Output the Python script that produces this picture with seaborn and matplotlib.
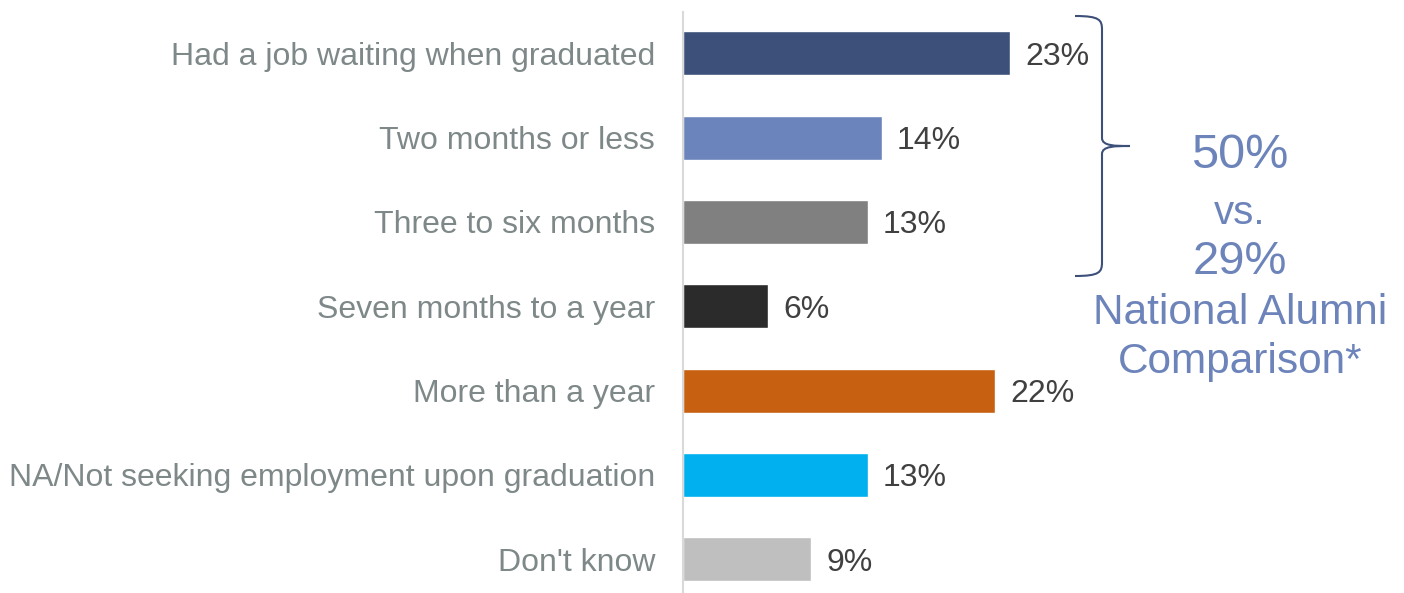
import matplotlib.pyplot as plt
import pandas as pd
import seaborn as sns
from matplotlib.patches import PathPatch
from matplotlib.path import Path

categories = [
    "Had a job waiting when graduated",
    "Two months or less",
    "Three to six months",
    "Seven months to a year",
    "More than a year",
    "NA/Not seeking employment upon graduation",
    "Don't know",
]
shares = [23, 14, 13, 6, 22, 13, 9]
bar_colors = ["#3c5079", "#6b84bb", "#808080", "#2b2b2b", "#c86011", "#00b0ef", "#bfbfbf"]
callout_lines = ["50%", "vs.", "29%", "National Alumni", "Comparison*"]

df = pd.DataFrame({"category": categories, "share": shares})

sns.set_theme(style="white")
plt.rcParams["font.family"] = ["Liberation Sans", "DejaVu Sans"]

fig = plt.figure(figsize=(14.04, 5.93), dpi=100)
W, H = 1404, 593
ax = fig.add_axes([683 / W, 0, 710 / W, 1 - 12 / H])

sns.barplot(data=df, x="share", y="category", hue="category", palette=bar_colors,
            width=0.52, legend=False, ax=ax, saturation=1)

ax.set_xlim(0, 50)
ax.set_ylim(6.4, -0.49)
ax.set_xlabel("")
ax.set_ylabel("")
ax.set_xticks([])
for side in ["top", "right", "bottom"]:
    ax.spines[side].set_visible(False)
ax.spines["left"].set_color("#d9d9d9")
ax.spines["left"].set_linewidth(1.5)
ax.tick_params(axis="y", length=0, pad=20, labelsize=23, labelcolor="#7f8888")

for container in ax.containers:
    labels = ax.bar_label(container, fmt="%d%%", padding=11, fontsize=23, color="#404040")
    for t in labels:
        t.set_va("center_baseline")

# brace grouping the first three bars
fx = lambda px: px / W
fy = lambda py: 1 - py / H
verts = [
    (fx(1075), fy(16)), (fx(1100), fy(16)), (fx(1102), fy(20)), (fx(1102), fy(30)),
    (fx(1102), fy(138)),
    (fx(1102), fy(146)), (fx(1115), fy(146)), (fx(1130), fy(146)),
    (fx(1115), fy(146)), (fx(1102), fy(146)), (fx(1102), fy(154)),
    (fx(1102), fy(262)),
    (fx(1102), fy(272)), (fx(1100), fy(276)), (fx(1075), fy(276)),
]
codes = [Path.MOVETO, Path.CURVE4, Path.CURVE4, Path.CURVE4,
         Path.LINETO,
         Path.CURVE4, Path.CURVE4, Path.CURVE4,
         Path.CURVE4, Path.CURVE4, Path.CURVE4,
         Path.LINETO,
         Path.CURVE4, Path.CURVE4, Path.CURVE4]
fig.patches.append(PathPatch(Path(verts, codes), transform=fig.transFigure,
                             facecolor="none", edgecolor="#3c5079", linewidth=1.5))

callout_y = [155, 213, 262, 313, 362]
callout_size = [35, 29, 34, 30.5, 30.5]
for line, py, fs in zip(callout_lines, callout_y, callout_size):
    fig.text(fx(1240), fy(py), line, ha="center", va="center", fontsize=fs, color="#6d84bb")

fig.savefig("out.png", dpi=100)
